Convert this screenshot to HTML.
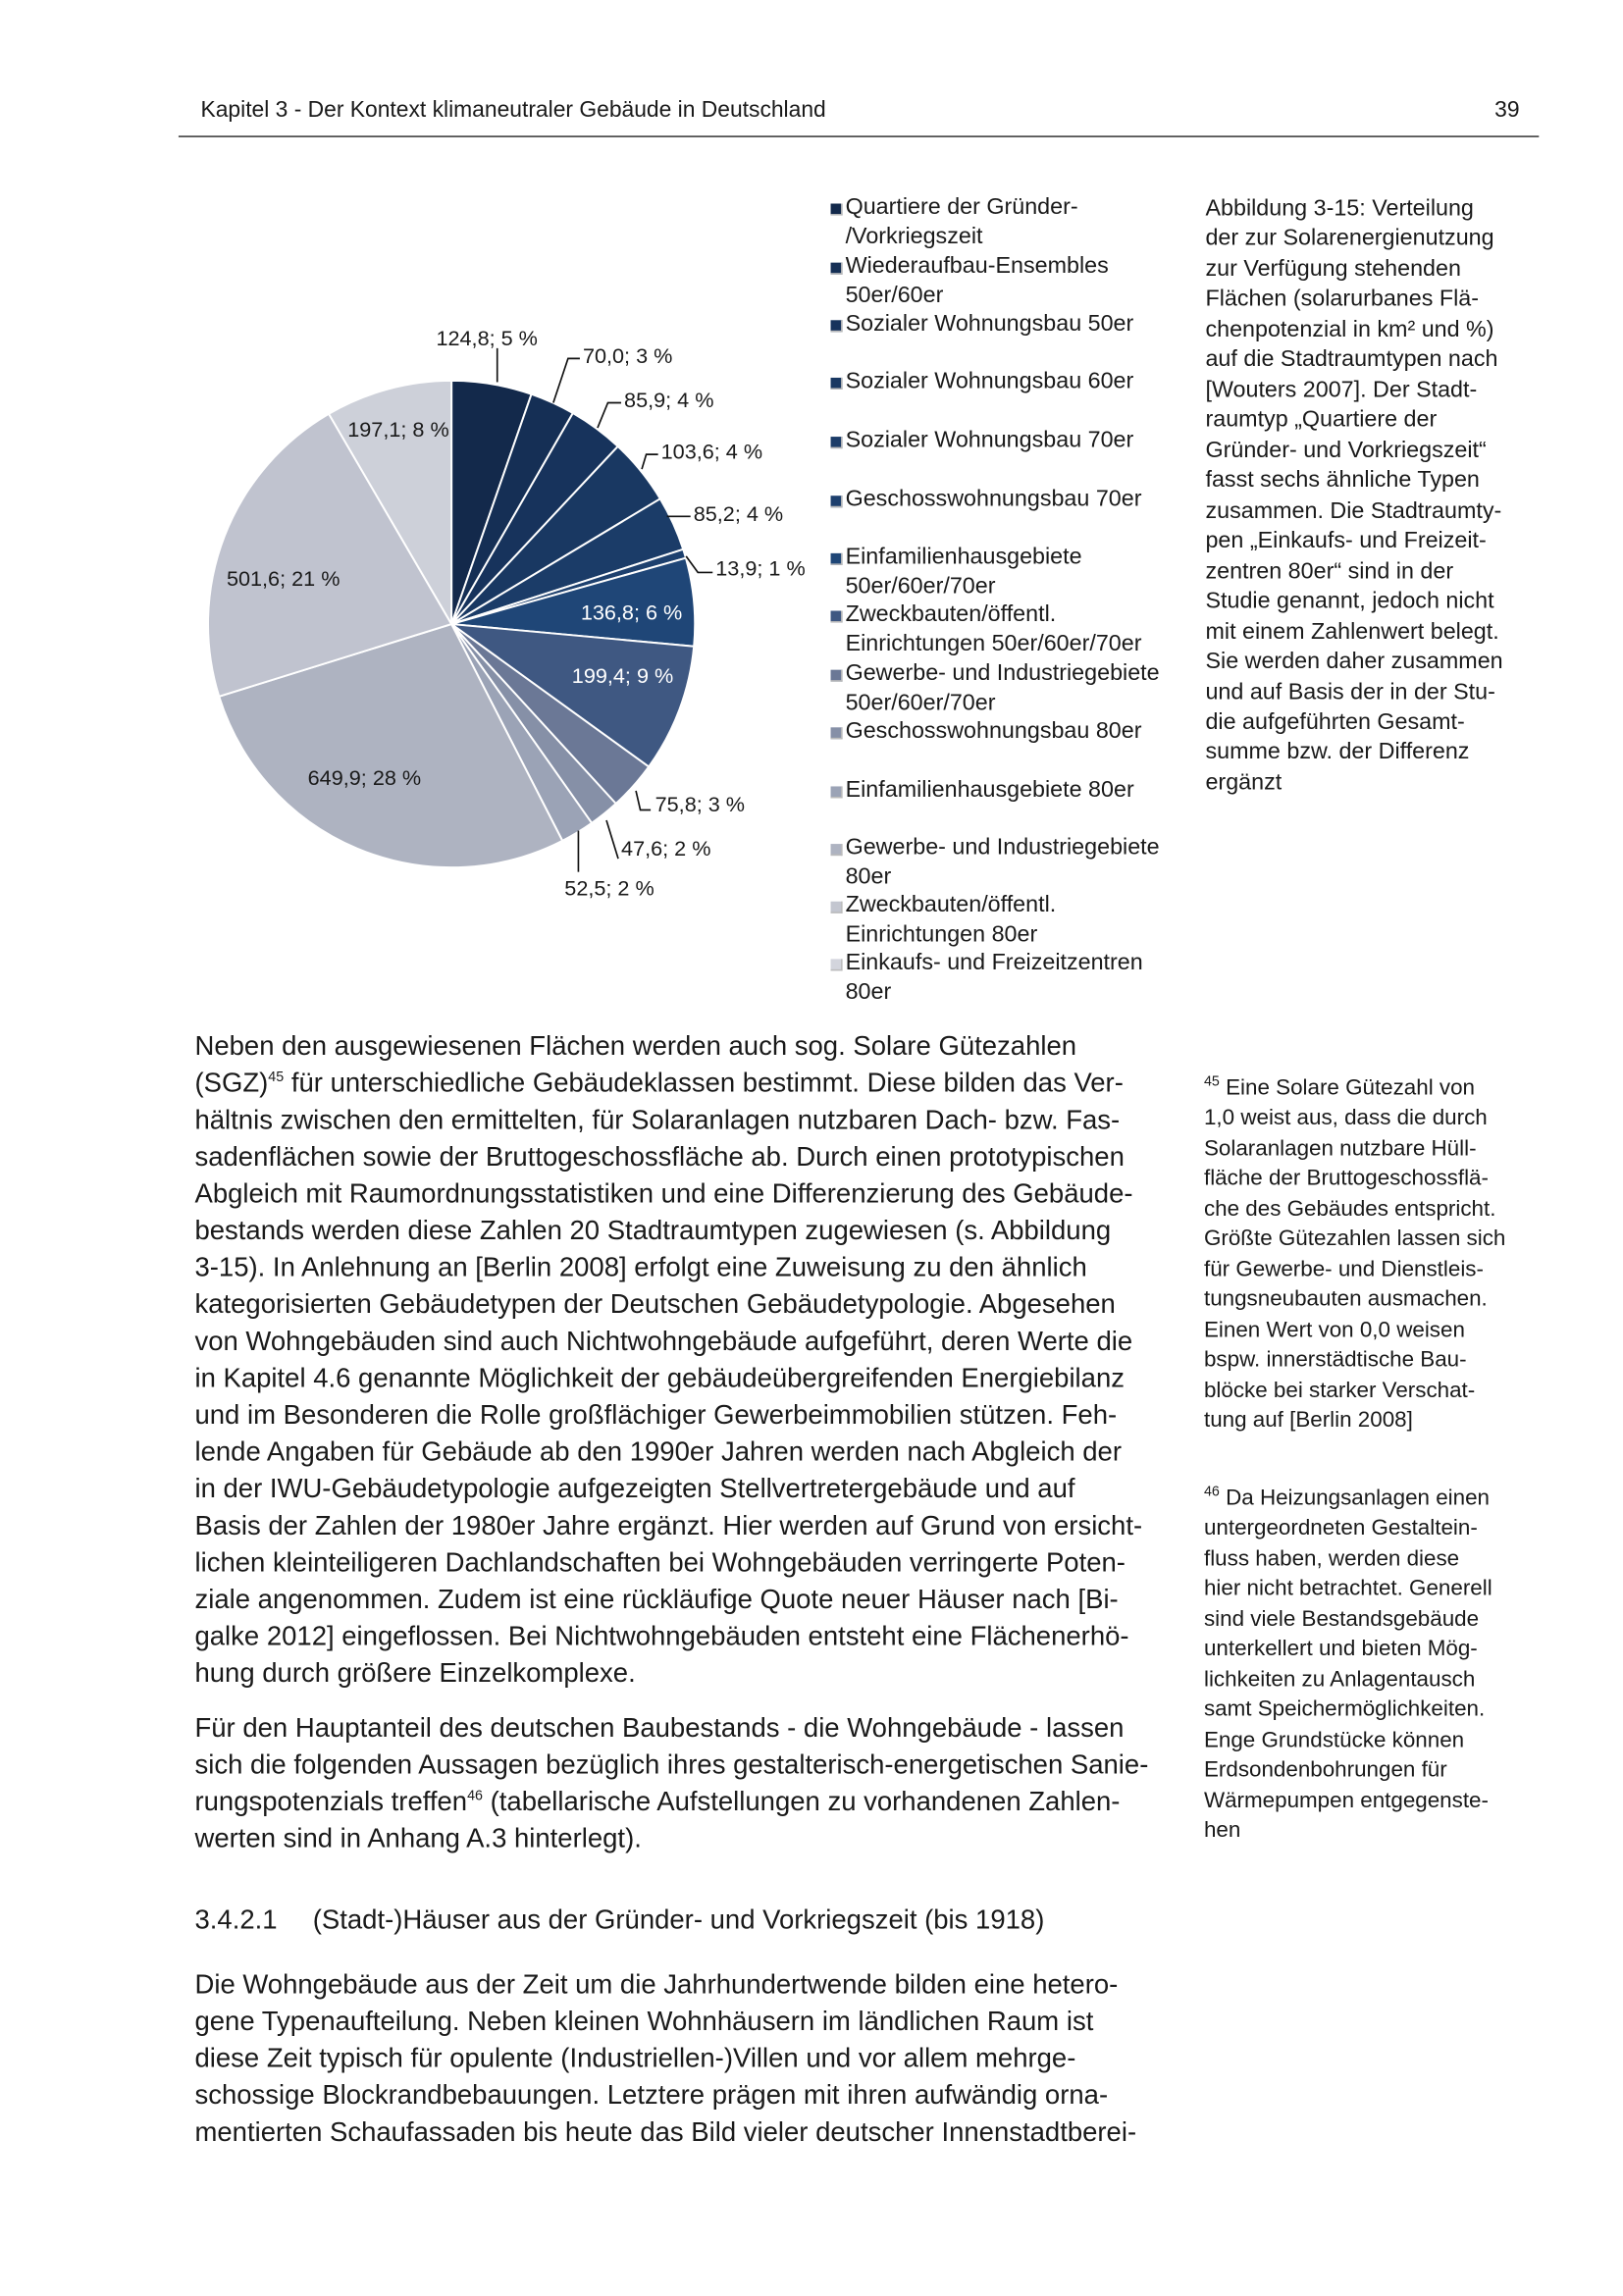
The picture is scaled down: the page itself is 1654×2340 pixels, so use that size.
<!DOCTYPE html>
<html><head><meta charset="utf-8">
<style>
html,body{margin:0;padding:0;background:#fff;}
body{width:1654px;height:2339px;overflow:hidden;position:relative;}
#w{position:absolute;left:0;top:0;width:1100px;height:1556px;transform:scale(1.50364);transform-origin:0 0;font-family:"Liberation Sans",sans-serif;color:#1a1a1a;}
.a{position:absolute;white-space:nowrap;}
.body div{height:25px;line-height:25px;font-size:18.3px;}
.leg{font-size:15.5px;line-height:20.4px;}
.leg .sq{position:absolute;left:-10px;top:7px;width:7px;height:7px;border-right:1.5px solid #bbb;border-bottom:1.5px solid #bbb;}
.cap{font-size:15.5px;line-height:20.47px;}
.fn{font-size:14.9px;line-height:20.47px;}
sup{font-size:9.5px;line-height:0;}
</style></head><body><div id="w">
<div class="a" style="left:136px;top:66px;font-size:15.2px;">Kapitel 3 - Der Kontext klimaneutraler Gebäude in Deutschland</div>
<div class="a" style="left:1013px;top:66px;font-size:15.2px;">39</div>
<div class="a" style="left:121px;top:92px;width:922px;height:1px;background:#333;"></div>

<svg class="a" style="left:0;top:0" width="1100" height="720" viewBox="0 0 1100 720" id="pie">
<g id="sl"></g>
<g stroke="#111" stroke-width="1.1" fill="none">
<path d="M337 236 L337 259"/>
<path d="M393 243 L385 243 L375 273"/>
<path d="M421 273 L412 273 L405 290"/>
<path d="M446 308 L438 308 L435 318"/>
<path d="M468 350 L452 350"/>
<path d="M483 388 L473 388 L465 377"/>
<path d="M441 549 L434 549 L431 536"/>
<path d="M419 582 L411 556"/>
<path d="M392 591 L392 563"/>
</g>
<g font-family="Liberation Sans, sans-serif" font-size="14.4" fill="#1a1a1a">
<text x="330" y="234" text-anchor="middle">124,8; 5 %</text>
<text x="395" y="246">70,0; 3 %</text>
<text x="423" y="276">85,9; 4 %</text>
<text x="448" y="311">103,6; 4 %</text>
<text x="470" y="353">85,2; 4 %</text>
<text x="485" y="390">13,9; 1 %</text>
<text x="428" y="420" text-anchor="middle" fill="#fff">136,8; 6 %</text>
<text x="422" y="463" text-anchor="middle" fill="#fff">199,4; 9 %</text>
<text x="444" y="550">75,8; 3 %</text>
<text x="421" y="580">47,6; 2 %</text>
<text x="413" y="607" text-anchor="middle">52,5; 2 %</text>
<text x="247" y="532" text-anchor="middle">649,9; 28 %</text>
<text x="192" y="397" text-anchor="middle">501,6; 21 %</text>
<text x="270" y="296" text-anchor="middle">197,1; 8 %</text>
</g>
</svg>

<div class="a leg" style="left:573px;top:131px;"><span class="sq" style="background:#13294b"></span>Quartiere der Gründer-<br>/Vorkriegszeit</div>
<div class="a leg" style="left:573px;top:171px;"><span class="sq" style="background:#152f55"></span>Wiederaufbau-Ensembles<br>50er/60er</div>
<div class="a leg" style="left:573px;top:210px;"><span class="sq" style="background:#17335c"></span>Sozialer Wohnungsbau 50er</div>
<div class="a leg" style="left:573px;top:249px;"><span class="sq" style="background:#193862"></span>Sozialer Wohnungsbau 60er</div>
<div class="a leg" style="left:573px;top:289px;"><span class="sq" style="background:#1b3c68"></span>Sozialer Wohnungsbau 70er</div>
<div class="a leg" style="left:573px;top:329px;"><span class="sq" style="background:#1d406e"></span>Geschosswohnungsbau 70er</div>
<div class="a leg" style="left:573px;top:368px;"><span class="sq" style="background:#1f4677"></span>Einfamilienhausgebiete<br>50er/60er/70er</div>
<div class="a leg" style="left:573px;top:407px;"><span class="sq" style="background:#3f5882"></span>Zweckbauten/öffentl.<br>Einrichtungen 50er/60er/70er</div>
<div class="a leg" style="left:573px;top:447px;"><span class="sq" style="background:#6b7896"></span>Gewerbe- und Industriegebiete<br>50er/60er/70er</div>
<div class="a leg" style="left:573px;top:486px;"><span class="sq" style="background:#8690a7"></span>Geschosswohnungsbau 80er</div>
<div class="a leg" style="left:573px;top:526px;"><span class="sq" style="background:#9ba3b6"></span>Einfamilienhausgebiete 80er</div>
<div class="a leg" style="left:573px;top:565px;"><span class="sq" style="background:#aeb3c1"></span>Gewerbe- und Industriegebiete<br>80er</div>
<div class="a leg" style="left:573px;top:604px;"><span class="sq" style="background:#c3c6d0"></span>Zweckbauten/öffentl.<br>Einrichtungen 80er</div>
<div class="a leg" style="left:573px;top:643px;"><span class="sq" style="background:#d3d5dd"></span>Einkaufs- und Freizeitzentren<br>80er</div>

<div class="a cap" style="left:817px;top:132px;">Abbildung 3-15: Verteilung<br>der zur Solarenergienutzung<br>zur Verfügung stehenden<br>Flächen (solarurbanes Flä-<br>chenpotenzial in km² und %)<br>auf die Stadtraumtypen nach<br>[Wouters 2007]. Der Stadt-<br>raumtyp „Quartiere der<br>Gründer- und Vorkriegszeit“<br>fasst sechs ähnliche Typen<br>zusammen. Die Stadtraumty-<br>pen „Einkaufs- und Freizeit-<br>zentren 80er“ sind in der<br>Studie genannt, jedoch nicht<br>mit einem Zahlenwert belegt.<br>Sie werden daher zusammen<br>und auf Basis der in der Stu-<br>die aufgeführten Gesamt-<br>summe bzw. der Differenz<br>ergänzt</div>

<div class="a fn" style="left:816px;top:728px;"><sup>45</sup> Eine Solare Gütezahl von<br>1,0 weist aus, dass die durch<br>Solaranlagen nutzbare Hüll-<br>fläche der Bruttogeschossflä-<br>che des Gebäudes entspricht.<br>Größte Gütezahlen lassen sich<br>für Gewerbe- und Dienstleis-<br>tungsneubauten ausmachen.<br>Einen Wert von 0,0 weisen<br>bspw. innerstädtische Bau-<br>blöcke bei starker Verschat-<br>tung auf [Berlin 2008]</div>

<div class="a fn" style="left:816px;top:1006px;"><sup>46</sup> Da Heizungsanlagen einen<br>untergeordneten Gestaltein-<br>fluss haben, werden diese<br>hier nicht betrachtet. Generell<br>sind viele Bestandsgebäude<br>unterkellert und bieten Mög-<br>lichkeiten zu Anlagentausch<br>samt Speichermöglichkeiten.<br>Enge Grundstücke können<br>Erdsondenbohrungen für<br>Wärmepumpen entgegenste-<br>hen</div>

<div class="a body" style="left:132px;top:696px;">
<div>Neben den ausgewiesenen Flächen werden auch sog. Solare Gütezahlen</div>
<div>(SGZ)<sup>45</sup> für unterschiedliche Gebäudeklassen bestimmt. Diese bilden das Ver-</div>
<div>hältnis zwischen den ermittelten, für Solaranlagen nutzbaren Dach- bzw. Fas-</div>
<div>sadenflächen sowie der Bruttogeschossfläche ab. Durch einen prototypischen</div>
<div>Abgleich mit Raumordnungsstatistiken und eine Differenzierung des Gebäude-</div>
<div>bestands werden diese Zahlen 20 Stadtraumtypen zugewiesen (s. Abbildung</div>
<div>3-15). In Anlehnung an [Berlin 2008] erfolgt eine Zuweisung zu den ähnlich</div>
<div>kategorisierten Gebäudetypen der Deutschen Gebäudetypologie. Abgesehen</div>
<div>von Wohngebäuden sind auch Nichtwohngebäude aufgeführt, deren Werte die</div>
<div>in Kapitel 4.6 genannte Möglichkeit der gebäudeübergreifenden Energiebilanz</div>
<div>und im Besonderen die Rolle großflächiger Gewerbeimmobilien stützen. Feh-</div>
<div>lende Angaben für Gebäude ab den 1990er Jahren werden nach Abgleich der</div>
<div>in der IWU-Gebäudetypologie aufgezeigten Stellvertretergebäude und auf</div>
<div>Basis der Zahlen der 1980er Jahre ergänzt. Hier werden auf Grund von ersicht-</div>
<div>lichen kleinteiligeren Dachlandschaften bei Wohngebäuden verringerte Poten-</div>
<div>ziale angenommen. Zudem ist eine rückläufige Quote neuer Häuser nach [Bi-</div>
<div>galke 2012] eingeflossen. Bei Nichtwohngebäuden entsteht eine Flächenerhö-</div>
<div>hung durch größere Einzelkomplexe.</div>
</div>
<div class="a body" style="left:132px;top:1158px;">
<div>Für den Hauptanteil des deutschen Baubestands - die Wohngebäude - lassen</div>
<div>sich die folgenden Aussagen bezüglich ihres gestalterisch-energetischen Sanie-</div>
<div>rungspotenzials treffen<sup>46</sup> (tabellarische Aufstellungen zu vorhandenen Zahlen-</div>
<div>werten sind in Anhang A.3 hinterlegt).</div>
</div>
<div class="a body" style="left:132px;top:1288px;"><div>3.4.2.1</div></div>
<div class="a body" style="left:212px;top:1288px;"><div>(Stadt-)Häuser aus der Gründer- und Vorkriegszeit (bis 1918)</div></div>
<div class="a body" style="left:132px;top:1332px;">
<div>Die Wohngebäude aus der Zeit um die Jahrhundertwende bilden eine hetero-</div>
<div>gene Typenaufteilung. Neben kleinen Wohnhäusern im ländlichen Raum ist</div>
<div>diese Zeit typisch für opulente (Industriellen-)Villen und vor allem mehrge-</div>
<div>schossige Blockrandbebauungen. Letztere prägen mit ihren aufwändig orna-</div>
<div>mentierten Schaufassaden bis heute das Bild vieler deutscher Innenstadtberei-</div>
</div>
</div>
<script>
var v=[124.8,70,85.9,103.6,85.2,13.9,136.8,199.4,75.8,47.6,52.5,649.9,501.6,197.1];
var c=["#13294b","#152f55","#17335c","#193862","#1b3c68","#1d406e","#1f4677","#3f5882","#6b7896","#8690a7","#9ba3b6","#aeb3c1","#c0c3cf","#cdd0d9"];
var t=v.reduce(function(a,b){return a+b},0),cx=306,cy=423,r=165,a=0,s="";
for(var i=0;i<v.length;i++){var a2=a+v[i]/t*2*Math.PI;
var x1=cx+r*Math.sin(a),y1=cy-r*Math.cos(a),x2=cx+r*Math.sin(a2),y2=cy-r*Math.cos(a2);
s+='<path d="M'+cx+' '+cy+' L'+x1.toFixed(2)+' '+y1.toFixed(2)+' A'+r+' '+r+' 0 '+((a2-a)>Math.PI?1:0)+' 1 '+x2.toFixed(2)+' '+y2.toFixed(2)+' Z" fill="'+c[i]+'" stroke="#fff" stroke-width="1.3"/>';a=a2;}
document.getElementById("sl").innerHTML=s;
</script>
</body></html>
